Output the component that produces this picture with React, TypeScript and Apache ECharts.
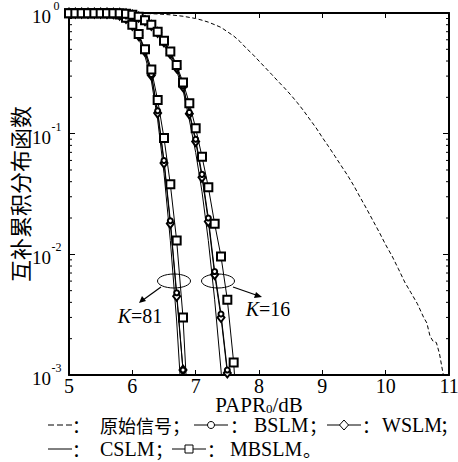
import React, { useEffect, useRef } from 'react';
import * as echarts from 'echarts';

// x grid (dB) for the K=81 curves
const papr81 = [5.0, 5.1, 5.2, 5.3, 5.4, 5.5, 5.6, 5.7, 5.8, 5.9, 6.0, 6.1, 6.2, 6.3, 6.4, 6.5, 6.6, 6.7, 6.8, 6.9];
const bslm81 = [0.995, 0.995, 0.995, 0.995, 0.995, 0.995, 0.994, 0.99, 0.965, 0.905, 0.795, 0.655, 0.485, 0.31, 0.155, 0.06, 0.019, 0.0048, 0.0011, 0.0002];
const wslm81 = [0.995, 0.995, 0.995, 0.995, 0.995, 0.995, 0.994, 0.99, 0.962, 0.9, 0.79, 0.65, 0.48, 0.305, 0.148, 0.057, 0.018, 0.0045, 0.0011, 0.0002];
const cslm81 = [0.995, 0.995, 0.995, 0.995, 0.995, 0.995, 0.993, 0.988, 0.955, 0.89, 0.77, 0.62, 0.44, 0.275, 0.13, 0.047, 0.013, 0.0028, 0.0004, 0.0001];
const mbslm81 = [0.995, 0.995, 0.995, 0.995, 0.995, 0.995, 0.994, 0.992, 0.97, 0.915, 0.8, 0.67, 0.5, 0.34, 0.19, 0.092, 0.038, 0.013, 0.003, 0.0003];

// x grid (dB) for the K=16 curves
const papr16 = [5.0, 5.1, 5.2, 5.3, 5.4, 5.5, 5.6, 5.7, 5.8, 5.9, 6.0, 6.1, 6.2, 6.3, 6.4, 6.5, 6.6, 6.7, 6.8, 6.9, 7.0, 7.1, 7.2, 7.3, 7.4, 7.5, 7.6, 7.7];
const mbslm16 = [0.995, 0.995, 0.995, 0.995, 0.995, 0.995, 0.995, 0.995, 0.995, 0.985, 0.965, 0.93, 0.87, 0.8, 0.7, 0.59, 0.48, 0.37, 0.265, 0.179, 0.111, 0.0645, 0.036, 0.0179, 0.0096, 0.0042, 0.00127, 0.0002];
const wslm16 = [0.995, 0.995, 0.995, 0.995, 0.995, 0.995, 0.995, 0.995, 0.995, 0.985, 0.96, 0.925, 0.865, 0.79, 0.69, 0.575, 0.46, 0.35, 0.245, 0.146, 0.086, 0.0435, 0.0187, 0.0068, 0.003, 0.00104, 0.0002, 0.00005];
const bslm16 = [0.995, 0.995, 0.995, 0.995, 0.995, 0.995, 0.995, 0.995, 0.995, 0.985, 0.962, 0.928, 0.868, 0.795, 0.695, 0.58, 0.465, 0.355, 0.25, 0.15, 0.09, 0.046, 0.02, 0.0072, 0.0032, 0.0011, 0.0002, 0.00005];
const cslm16 = [0.995, 0.995, 0.995, 0.995, 0.995, 0.995, 0.995, 0.995, 0.994, 0.982, 0.955, 0.915, 0.85, 0.77, 0.665, 0.55, 0.435, 0.33, 0.23, 0.13, 0.07, 0.033, 0.013, 0.0042, 0.0011, 0.0002, 0.00004, 0.00001];

// original signal
const paprOrig = [5.0, 5.5, 6.0, 6.2, 6.4, 6.6, 6.8, 7.0, 7.1, 7.2, 7.3, 7.4, 7.5, 7.6, 7.7, 7.8, 7.9, 8.0, 8.1, 8.2, 8.3, 8.4, 8.5, 8.6, 8.7, 8.8, 8.9, 9.0, 9.1, 9.2, 9.3, 9.4, 9.5, 9.6, 9.7, 9.8, 9.9, 10.0, 10.1, 10.2, 10.3, 10.4, 10.5, 10.6, 10.65, 10.7, 10.75, 10.8, 10.85, 10.9, 11.0];
const ccdfOrig = [0.999, 0.998, 0.995, 0.991, 0.982, 0.966, 0.94, 0.9, 0.872, 0.84, 0.80, 0.76, 0.70, 0.645, 0.58, 0.51, 0.455, 0.40, 0.352, 0.31, 0.272, 0.24, 0.21, 0.182, 0.156, 0.132, 0.112, 0.093, 0.078, 0.065, 0.054, 0.045, 0.0368, 0.0295, 0.0238, 0.019, 0.0152, 0.012, 0.0097, 0.0076, 0.0059, 0.0048, 0.0039, 0.003, 0.0027, 0.0021, 0.0019, 0.00186, 0.0015, 0.00107, 0.0006];

const yDecades = [-3, -2, -1, 0];
const minorMultipliers = [2, 3, 4, 5, 6, 7, 8, 9];

const SERIF = '"Liberation Serif", "Times New Roman", serif';
const CJK = '"Noto Sans CJK SC", sans-serif';

const zip = (xs: number[], ys: number[]) => xs.map((x, i) => [x, ys[i]]);

const txt = (x: number, y: number, text: string, font: string, size: number) => ({
  type: 'text', x, y, z: 10,
  style: { text, fontFamily: font, fontSize: size, lineHeight: 20, fill: '#000', verticalAlign: 'middle', align: 'left' },
});

export default function App() {
  const ref = useRef<HTMLDivElement>(null);
  useEffect(() => {
    if (!ref.current) return;
    const chart = echarts.init(ref.current, null, { renderer: 'svg' });
    const minorVals: number[][] = [];
    yDecades.slice(0, 3).forEach((e) => minorMultipliers.forEach((m) => minorVals.push([5, m * Math.pow(10, e)])));

    const lineBase = { type: 'line', clip: true, animation: false, lineStyle: { color: '#000', width: 1 }, itemStyle: { color: '#000', borderWidth: 1 }, z: 3 };
    const mk = (name: string, xs: number[], ys: number[], symbol: string, size: any) => ({
      ...lineBase,
      name,
      data: zip(xs, ys),
      symbol,
      symbolSize: size,
      showSymbol: symbol !== 'none',
    });

    const axisCommon = {
      axisLine: { show: true, onZero: false, lineStyle: { color: '#000', width: 2 } },
      splitLine: { show: false },
      nameMoveOverlap: false,
    };

    const option: any = {
      animation: false,
      backgroundColor: '#fff',
      grid: { left: 69, right: 9, top: 13, bottom: 87, containLabel: false, outerBoundsMode: 'none' },
      xAxis: [
        {
          ...axisCommon,
          type: 'value', min: 5, max: 11, interval: 1, position: 'bottom',
          axisTick: { inside: true, length: 5, lineStyle: { color: '#000', width: 1 } },
          axisLabel: { color: '#000', fontFamily: SERIF, fontSize: 20, lineHeight: 18, margin: 2 },
          name: '{a|PAPR}{s|0}{a|/dB}',
          nameLocation: 'middle', nameGap: 21,
          nameTextStyle: {
            verticalAlign: 'top',
            rich: {
              a: { fontFamily: SERIF, fontSize: 21, color: '#000', verticalAlign: 'bottom', lineHeight: 19 },
              s: { fontFamily: SERIF, fontSize: 13, color: '#000', verticalAlign: 'bottom', lineHeight: 16 },
            },
          },
        },
        {
          ...axisCommon,
          type: 'value', min: 5, max: 11, interval: 1, position: 'top',
          axisTick: { inside: true, length: 5, lineStyle: { color: '#000', width: 1 } },
          axisLabel: { show: false },
        },
      ],
      yAxis: [
        {
          ...axisCommon,
          type: 'log', logBase: 10, min: 0.001, max: 1, position: 'left',
          axisTick: { inside: true, length: 6, lineStyle: { color: '#000', width: 1 } },
          axisLabel: {
            margin: 7,
            formatter: (v: number) => `{b|10}{s|${Math.round(Math.log10(v))}}`,
            rich: {
              b: { fontFamily: SERIF, fontSize: 19, color: '#000', verticalAlign: 'bottom', lineHeight: 26 },
              s: { fontFamily: SERIF, fontSize: 12, color: '#000', verticalAlign: 'top', lineHeight: 26, width: 11, align: 'left' },
            },
          },
          name: '互补累积分布函数',
          nameLocation: 'middle', nameGap: 39, nameRotate: 90,
          nameTextStyle: { fontFamily: CJK, fontSize: 22, color: '#000' },
        },
        {
          ...axisCommon,
          type: 'log', logBase: 10, min: 0.001, max: 1, position: 'right',
          axisTick: { inside: true, length: 6, lineStyle: { color: '#000', width: 1 } },
          axisLabel: { show: false },
        },
      ],
      series: [
        {
          type: 'custom', coordinateSystem: 'cartesian2d', data: minorVals, silent: true, clip: false, z: 1,
          renderItem: (params: any, api: any) => {
            const v = api.value(1);
            const l = api.coord([5, v]);
            const r = api.coord([11, v]);
            const st = { stroke: '#000', lineWidth: 1 };
            return {
              type: 'group',
              children: [
                { type: 'line', shape: { x1: l[0], y1: l[1], x2: l[0] + 3, y2: l[1] }, style: st },
                { type: 'line', shape: { x1: r[0], y1: r[1], x2: r[0] - 3, y2: r[1] }, style: st },
              ],
            };
          },
        },
        {
          ...lineBase, name: '原始信号', data: zip(paprOrig, ccdfOrig), symbol: 'none', showSymbol: false,
          lineStyle: { color: '#000', width: 1, type: [4, 2.5] },
        },
        mk('CSLM81', papr81, cslm81, 'none', 0),
        mk('WSLM81', papr81, wslm81, 'emptyDiamond', [7, 9]),
        mk('BSLM81', papr81, bslm81, 'emptyCircle', 5),
        mk('MBSLM81', papr81, mbslm81, 'emptyRect', 8),
        mk('CSLM16', papr16, cslm16, 'none', 0),
        mk('WSLM16', papr16, wslm16, 'emptyDiamond', [7, 9]),
        mk('BSLM16', papr16, bslm16, 'emptyCircle', 5),
        mk('MBSLM16', papr16, mbslm16, 'emptyRect', 8),
      ],
      graphic: [
        // annotations
        { type: 'ellipse', shape: { cx: 174, cy: 281, rx: 16.5, ry: 7 }, style: { fill: 'none', stroke: '#000', lineWidth: 1 }, z: 10 },
        { type: 'ellipse', shape: { cx: 218, cy: 281, rx: 16.5, ry: 7 }, style: { fill: 'none', stroke: '#000', lineWidth: 1 }, z: 10 },
        { type: 'line', shape: { x1: 161, y1: 287, x2: 143, y2: 300 }, style: { stroke: '#000', lineWidth: 1.2 }, z: 10 },
        { type: 'polygon', shape: { points: [[139, 303], [142, 296], [146, 301]] }, style: { fill: '#000' }, z: 10 },
        { type: 'line', shape: { x1: 233, y1: 287, x2: 256, y2: 295 }, style: { stroke: '#000', lineWidth: 1.2 }, z: 10 },
        { type: 'polygon', shape: { points: [[262, 297], [254, 298], [256, 292]] }, style: { fill: '#000' }, z: 10 },
        {
          type: 'text', x: 140, y: 316, z: 10,
          style: {
            text: '{i|K}{n|=81}', align: 'center', verticalAlign: 'middle',
            rich: { i: { fontFamily: SERIF, fontStyle: 'italic', fontSize: 20, fill: '#000' }, n: { fontFamily: SERIF, fontSize: 20, fill: '#000' } },
          },
        },
        {
          type: 'text', x: 268, y: 309, z: 10,
          style: {
            text: '{i|K}{n|=16}', align: 'center', verticalAlign: 'middle',
            rich: { i: { fontFamily: SERIF, fontStyle: 'italic', fontSize: 20, fill: '#000' }, n: { fontFamily: SERIF, fontSize: 20, fill: '#000' } },
          },
        },
        // legend row 1
        { type: 'line', shape: { x1: 48, y1: 425, x2: 72, y2: 425 }, style: { stroke: '#000', lineWidth: 1, lineDash: [6, 3] } },
        txt(72, 425, '：', CJK, 18),
        txt(100, 425, '原始信号；', CJK, 18),
        { type: 'line', shape: { x1: 194, y1: 425, x2: 228, y2: 425 }, style: { stroke: '#000', lineWidth: 1 } },
        { type: 'circle', shape: { cx: 211, cy: 425, r: 3.5 }, style: { fill: '#fff', stroke: '#000', lineWidth: 1 } },
        txt(230, 425, '：', CJK, 18),
        txt(254, 425, 'BSLM', SERIF, 20),
        txt(309, 425, '；', CJK, 18),
        { type: 'line', shape: { x1: 327, y1: 425, x2: 361, y2: 425 }, style: { stroke: '#000', lineWidth: 1 } },
        { type: 'polygon', shape: { points: [[344, 420], [348.5, 425], [344, 430], [339.5, 425]] }, style: { fill: '#fff', stroke: '#000', lineWidth: 1 } },
        txt(362, 425, '：', CJK, 18),
        txt(382, 425, 'WSLM', SERIF, 20),
        txt(440, 425, '；', CJK, 18),
        // legend row 2
        { type: 'line', shape: { x1: 48, y1: 449, x2: 72, y2: 449 }, style: { stroke: '#000', lineWidth: 1 } },
        txt(72, 449, '：', CJK, 18),
        txt(100, 449, 'CSLM', SERIF, 20),
        txt(155, 449, '；', CJK, 18),
        { type: 'line', shape: { x1: 172, y1: 449, x2: 206, y2: 449 }, style: { stroke: '#000', lineWidth: 1 } },
        { type: 'rect', shape: { x: 185, y: 445, width: 8, height: 8 }, style: { fill: '#fff', stroke: '#000', lineWidth: 1 } },
        txt(207, 449, '：', CJK, 18),
        txt(230, 449, 'MBSLM', SERIF, 20),
        txt(303, 449, '。', CJK, 18),
      ],
    };
    chart.setOption(option);
    return () => chart.dispose();
  }, []);
  return <div ref={ref} style={{ width: 458, height: 462, position: 'absolute', left: 0, top: 0, background: '#fff' }} />;
}
